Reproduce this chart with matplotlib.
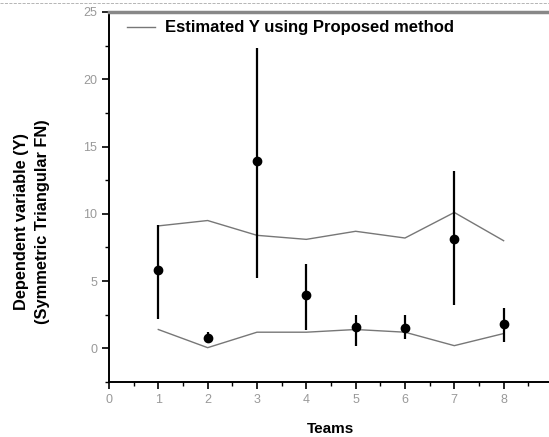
import matplotlib.pyplot as plt
from matplotlib.lines import Line2D
from matplotlib.ticker import MultipleLocator

# data
teams = [1, 2, 3, 4, 5, 6, 7, 8]
observed_y = [5.8, 0.8, 13.9, 4.0, 1.6, 1.5, 8.1, 1.8]
err_low = [2.2, 0.5, 5.2, 1.4, 0.2, 0.7, 3.2, 0.5]
err_high = [9.2, 1.2, 22.3, 6.3, 2.5, 2.5, 13.2, 3.0]
est_upper = [9.1, 9.5, 8.4, 8.1, 8.7, 8.2, 10.1, 8.0]
est_lower = [1.4, 0.05, 1.2, 1.2, 1.4, 1.2, 0.2, 1.1]

plt.rcParams['font.family'] = ['Liberation Sans', 'DejaVu Sans']

fig = plt.figure(figsize=(5.49, 4.37), dpi=100)
ax = fig.add_axes([0.1985, 0.1259, 0.8087, 0.8467])

yerr = [[o - l for o, l in zip(observed_y, err_low)],
        [h - o for o, h in zip(observed_y, err_high)]]

ax.plot(teams, est_upper, color='#777777', lw=1.0,
        label='Estimated Y using Proposed method')
ax.plot(teams, est_lower, color='#777777', lw=1.0)
ax.errorbar(teams, observed_y, yerr=yerr, fmt='o', color='black',
            ecolor='black', elinewidth=1.6, capsize=0, markersize=6)

ax.set_xlim(0, 9)
ax.set_ylim(-2.5, 25)
ax.xaxis.set_major_locator(MultipleLocator(1))
ax.xaxis.set_minor_locator(MultipleLocator(0.5))
ax.yaxis.set_major_locator(MultipleLocator(5))
ax.yaxis.set_minor_locator(MultipleLocator(2.5))
ax.tick_params(which='major', direction='out', length=5, width=1.2,
               labelsize=9, labelcolor='#999999')
ax.tick_params(which='minor', direction='out', length=3, width=1.0)

for side in ['left', 'bottom']:
    ax.spines[side].set_linewidth(1.4)
ax.spines['top'].set_color('#888888')
ax.spines['top'].set_linewidth(2.5)
ax.spines['right'].set_visible(False)

ax.set_xlabel('Teams', fontsize=11, fontweight='bold', labelpad=12)
fig.text(32 / 549, 1 - 222 / 437,
         'Dependent variable (Y)\n(Symmetric Triangular FN)',
         rotation=90, ha='center', va='center', fontsize=11.8,
         fontweight='bold', linespacing=1.5, multialignment='center')

ax.legend(loc='upper left', bbox_to_anchor=(0.04, 0.977), frameon=False,
          prop={'weight': 'bold', 'size': 12}, handlelength=1.7,
          handletextpad=0.6, borderaxespad=0, borderpad=0)

# dashed crop line along the top of the picture
fig.add_artist(Line2D([0, 1], [0.992, 0.992], transform=fig.transFigure,
                      color='#aaaaaa', lw=0.6, ls='--'))

fig.savefig('out.png', dpi=100)
